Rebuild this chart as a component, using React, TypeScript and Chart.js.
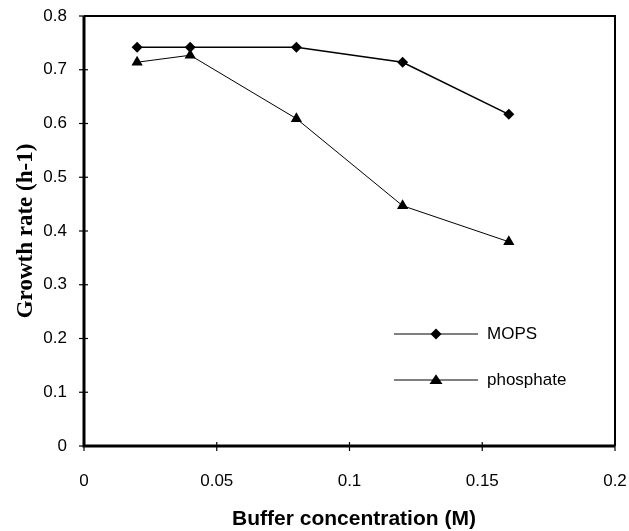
import React, { useEffect, useRef } from "react";
import { Chart, registerables } from "chart.js";

Chart.register(...registerables);

const concentrations = [0.02, 0.04, 0.08, 0.12, 0.16];
const mopsRates = [0.742, 0.742, 0.742, 0.714, 0.617];
const phosphateRates = [0.714, 0.727, 0.609, 0.447, 0.38];
const xTicks = [0, 0.05, 0.1, 0.15, 0.2];
const xTickLabels = ["0", "0.05", "0.1", "0.15", "0.2"];
const yTicks = [0, 0.1, 0.2, 0.3, 0.4, 0.5, 0.6, 0.7, 0.8];
const yTickLabels = ["0", "0.1", "0.2", "0.3", "0.4", "0.5", "0.6", "0.7", "0.8"];
const seriesNames = ["MOPS", "phosphate"];
const xTitle = "Buffer concentration (M)";
const yTitle = "Growth rate (h-1)";

const SANS = "'Liberation Sans', Arial, sans-serif";
const SERIF = "'Liberation Serif', 'Times New Roman', serif";

const decorPlugin = {
  id: "decor",
  beforeDatasetsDraw(chart: any) {
    const { ctx, chartArea } = chart;
    const { left, right, top, bottom } = chartArea;
    ctx.save();
    ctx.strokeStyle = "#000";
    ctx.lineWidth = 2;
    ctx.beginPath();
    ctx.moveTo(left, top);
    ctx.lineTo(right, top);
    ctx.lineTo(right, bottom);
    ctx.stroke();
    ctx.lineWidth = 3;
    ctx.beginPath();
    ctx.moveTo(left, top);
    ctx.lineTo(left, bottom);
    ctx.lineTo(right, bottom);
    ctx.stroke();
    ctx.restore();
  },
  afterDraw(chart: any) {
    const { ctx, chartArea, scales } = chart;
    const { left, top, bottom } = chartArea;
    const xs = scales.x;
    const ys = scales.y;
    ctx.save();
    ctx.strokeStyle = "#000";
    ctx.fillStyle = "#000";
    ctx.lineWidth = 1.2;
    yTicks.forEach((v, i) => {
      const py = ys.getPixelForValue(v);
      ctx.beginPath();
      ctx.moveTo(left - 5, py);
      ctx.lineTo(left + 4, py);
      ctx.stroke();
      ctx.font = `17px ${SANS}`;
      ctx.textAlign = "right";
      ctx.textBaseline = "middle";
      ctx.fillText(yTickLabels[i], 67, py);
    });
    xTicks.forEach((v, i) => {
      const px = xs.getPixelForValue(v);
      ctx.beginPath();
      ctx.moveTo(px, bottom - 4);
      ctx.lineTo(px, bottom + 5);
      ctx.stroke();
      ctx.font = `17px ${SANS}`;
      ctx.textAlign = "center";
      ctx.textBaseline = "middle";
      ctx.fillText(xTickLabels[i], px, 481);
    });
    ctx.font = `bold 21px ${SANS}`;
    ctx.textAlign = "center";
    ctx.textBaseline = "middle";
    ctx.fillText(xTitle, 354, 519);
    ctx.save();
    ctx.translate(26, (top + bottom) / 2);
    ctx.rotate(-Math.PI / 2);
    ctx.font = `bold 23px ${SERIF}`;
    ctx.textAlign = "center";
    ctx.textBaseline = "middle";
    ctx.fillText(yTitle, 0, 0);
    ctx.restore();

    const legendRows = [334, 380];
    chart.data.datasets.forEach((ds: any, i: number) => {
      const ly = legendRows[i];
      ctx.lineWidth = 1;
      ctx.beginPath();
      ctx.moveTo(394, ly);
      ctx.lineTo(478, ly);
      ctx.stroke();
      const style = ds.pointStyle;
      const r = ds.pointRadius;
      ctx.beginPath();
      if (style === "rectRot") {
        ctx.moveTo(436, ly - r);
        ctx.lineTo(436 + r, ly);
        ctx.lineTo(436, ly + r);
        ctx.lineTo(436 - r, ly);
      } else {
        const h = r * 1.5;
        ctx.moveTo(436, ly - h * 0.6);
        ctx.lineTo(436 + r, ly + h * 0.4);
        ctx.lineTo(436 - r, ly + h * 0.4);
      }
      ctx.closePath();
      ctx.fill();
      ctx.font = `17px ${SANS}`;
      ctx.textAlign = "left";
      ctx.textBaseline = "middle";
      ctx.fillText(ds.label, 487, ly);
    });
    ctx.restore();
  },
};

export default function App() {
  const canvasRef = useRef<HTMLCanvasElement | null>(null);

  useEffect(() => {
    const canvas = canvasRef.current;
    if (!canvas) return;
    const chart = new Chart(canvas, {
      type: "line",
      data: {
        datasets: [
          {
            label: seriesNames[0],
            data: concentrations.map((x, i) => ({ x, y: mopsRates[i] })),
            borderColor: "#000",
            backgroundColor: "#000",
            borderWidth: 1.6,
            pointStyle: "rectRot",
            pointRadius: 5.5,
            pointBackgroundColor: "#000",
            pointBorderColor: "#000",
            pointBorderWidth: 0,
            tension: 0,
          },
          {
            label: seriesNames[1],
            data: concentrations.map((x, i) => ({ x, y: phosphateRates[i] })),
            borderColor: "#000",
            backgroundColor: "#000",
            borderWidth: 1,
            pointStyle: "triangle",
            pointRadius: 6.5,
            pointBackgroundColor: "#000",
            pointBorderColor: "#000",
            pointBorderWidth: 0,
            tension: 0,
          },
        ],
      },
      options: {
        animation: false,
        responsive: false,
        maintainAspectRatio: false,
        layout: { padding: { left: 0, top: 16, right: 14, bottom: 0 } },
        plugins: {
          legend: { display: false },
          tooltip: { enabled: false },
          title: { display: false },
        },
        scales: {
          x: {
            type: "linear",
            min: 0,
            max: 0.2,
            ticks: { display: false, stepSize: 0.05 },
            grid: { display: false },
            border: { display: false },
            afterFit: (s: any) => {
              s.height = 85;
            },
          },
          y: {
            type: "linear",
            min: 0,
            max: 0.8,
            ticks: { display: false, stepSize: 0.1 },
            grid: { display: false },
            border: { display: false },
            afterFit: (s: any) => {
              s.width = 84;
            },
          },
        },
      },
      plugins: [decorPlugin],
    } as any);
    return () => chart.destroy();
  }, []);

  return (
    <div style={{ position: "fixed", left: 0, top: 0, width: 629, height: 531, background: "#fff" }}>
      <canvas ref={canvasRef} width={629} height={531} style={{ display: "block" }} />
    </div>
  );
}
